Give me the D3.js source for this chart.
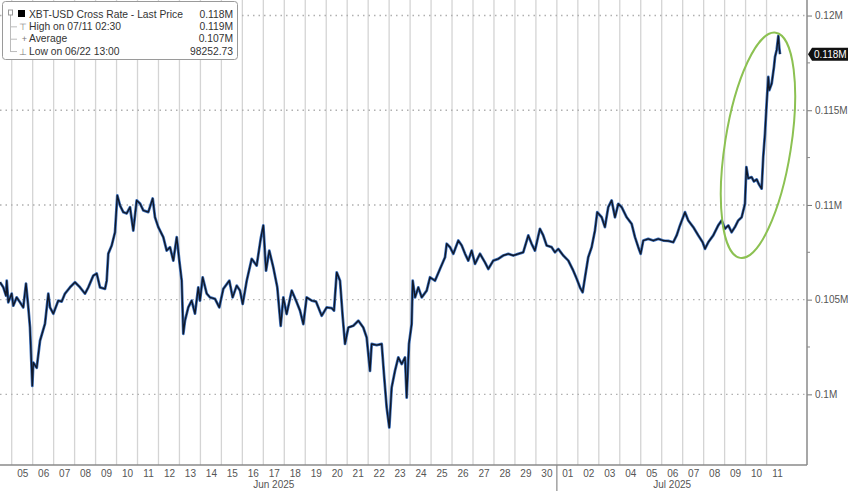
<!DOCTYPE html>
<html>
<head>
<meta charset="utf-8">
<script src="https://cdn.jsdelivr.net/npm/d3@7"></script>
<style>
  html, body { margin: 0; padding: 0; background: #fff; }
  svg { display: block; font-family: "Liberation Sans", Arial, sans-serif; }
</style>
</head>
<body>
<svg id="chart" width="848" height="491"></svg>
<script>
// XBT-USD cross rate, intraday (UTC)
const times = [
  '06-04 10:36', '06-04 14:24', '06-04 17:30', '06-04 18:18', '06-04 20:06',
  '06-05 00:00', '06-05 01:50', '06-05 05:40', '06-05 09:30', '06-05 13:16', '06-05 16:22', '06-05 19:00', '06-05 20:56', '06-05 23:35',
  '06-06 00:43', '06-06 04:37', '06-06 08:24', '06-06 14:07', '06-06 17:53', '06-06 19:50', '06-06 23:36',
  '06-07 05:20', '06-07 09:14', '06-07 13:00', '06-07 18:44',
  '06-08 00:27', '06-08 06:10', '06-08 11:54', '06-08 15:41', '06-08 21:24',
  '06-09 01:17', '06-09 05:04', '06-09 10:48', '06-09 12:44', '06-09 14:34', '06-09 18:27', '06-09 22:14',
  '06-10 00:52', '06-10 04:00', '06-10 07:44', '06-10 11:37', '06-10 15:24', '06-10 19:10', '06-10 23:04',
  '06-11 02:50', '06-11 06:37', '06-11 12:20', '06-11 17:23', '06-11 20:00', '06-11 23:47',
  '06-12 05:30', '06-12 09:24', '06-12 13:10', '06-12 17:00', '06-12 20:53', '06-12 23:50',
  '06-13 02:35', '06-13 04:25', '06-13 06:20', '06-13 10:07', '06-13 14:00', '06-13 17:47', '06-13 21:34', '06-13 23:31',
  '06-14 02:36', '06-14 07:12', '06-14 11:00', '06-14 16:42', '06-14 21:36',
  '06-15 02:12', '06-15 09:06', '06-15 12:54', '06-15 17:30', '06-15 21:18',
  '06-16 00:24', '06-16 05:00', '06-16 10:42', '06-16 16:24', '06-16 21:00',
  '06-17 00:00', '06-17 03:06', '06-17 06:48', '06-17 11:24', '06-17 16:00', '06-17 19:54', '06-17 22:54',
  '06-18 02:42', '06-18 08:30', '06-18 13:24', '06-18 18:00', '06-18 21:48',
  '06-19 01:36', '06-19 07:24', '06-19 12:18', '06-19 18:48',
  '06-20 00:30', '06-20 06:18', '06-20 08:54', '06-20 12:00', '06-20 15:48', '06-20 18:54', '06-20 21:30',
  '06-21 01:18', '06-21 07:00', '06-21 12:42', '06-21 18:24', '06-21 22:18',
  '06-22 02:06', '06-22 04:00', '06-22 09:48', '06-22 15:30', '06-22 18:06', '06-22 21:12',
  '06-23 00:12', '06-23 02:54', '06-23 06:42', '06-23 10:30', '06-23 14:24', '06-23 18:12', '06-23 20:06', '06-23 22:42',
  '06-24 01:48', '06-24 03:00', '06-24 05:42', '06-24 09:24', '06-24 13:18', '06-24 19:00', '06-24 22:48',
  '06-25 04:30', '06-25 10:12', '06-25 16:00', '06-25 17:54', '06-25 21:42',
  '06-26 01:30', '06-26 07:12', '06-26 11:06', '06-26 14:54', '06-26 18:36', '06-26 22:30',
  '06-27 02:18', '06-27 08:00', '06-27 13:42', '06-27 17:30', '06-27 23:12',
  '06-28 04:54', '06-28 10:36', '06-28 16:24', '06-28 22:06',
  '06-29 03:48', '06-29 09:30', '06-29 15:18', '06-29 19:06', '06-29 22:54',
  '06-30 04:36', '06-30 08:24', '06-30 12:18', '06-30 18:00', '06-30 21:48',
  '07-01 01:36', '07-01 07:18', '07-01 13:06', '07-01 18:48', '07-01 22:42',
  '07-02 02:24', '07-02 05:30', '07-02 08:12', '07-02 11:54', '07-02 15:48', '07-02 19:36', '07-02 22:12',
  '07-03 03:18', '07-03 07:00', '07-03 10:48', '07-03 14:42', '07-03 18:30', '07-03 22:18',
  '07-04 02:12', '07-04 07:54', '07-04 13:36', '07-04 17:24', '07-04 21:12', '07-04 23:54',
  '07-05 02:54', '07-05 08:36', '07-05 14:18', '07-05 20:06',
  '07-06 01:48', '07-06 07:30', '07-06 13:12', '07-06 17:06', '07-06 20:54',
  '07-07 02:36', '07-07 06:24', '07-07 12:06', '07-07 17:54', '07-07 22:54',
  '07-08 01:30', '07-08 05:18', '07-08 11:00', '07-08 16:42', '07-08 20:36',
  '07-09 00:24', '07-09 04:12', '07-09 08:00', '07-09 11:48', '07-09 15:36', '07-09 19:30', '07-09 23:18',
  '07-10 00:54', '07-10 03:00', '07-10 06:54', '07-10 09:30', '07-10 12:42', '07-10 15:18', '07-10 18:24', '07-10 20:12', '07-10 22:12',
  '07-11 00:06', '07-11 02:00', '07-11 03:06', '07-11 05:54', '07-11 08:30', '07-11 09:42', '07-11 11:36', '07-11 13:30', '07-11 14:36', '07-11 15:24'
]
const prices = [
  105920, 105650, 105210, 106000, 104860,
  105320, 104680, 105120, 104860, 104590, 105850, 104590, 103530, 100450,
  101680, 101400, 102830, 103730, 105320, 104590, 104260,
  104950, 104900, 105320, 105650,
  105920, 105650, 105320, 105650, 106270,
  106380, 105650, 105570, 106000, 107430, 107860, 108560,
  110500, 109970, 109620, 109550, 109880, 108650, 110240,
  110080, 109710, 109620, 110340, 109350, 108830,
  108300, 107590, 107770, 107060, 108300, 107060,
  106000, 103200, 103890, 104590, 104950, 104260, 105650, 104950,
  106180, 105320, 105120, 105040, 104590,
  105570, 106000, 105120, 105740, 105480,
  104770, 106000, 107150, 106800, 108210,
  108920, 106530, 107590, 106710, 105650, 103620, 105120,
  104240, 105480, 104950, 104420, 103710,
  105120, 104950, 104900, 104150,
  104590, 104550, 104420, 106440, 106000, 104060, 102660,
  103530, 103620, 103890, 103530, 103000,
  101240, 102660, 102600, 102660, 101070, 99300,
  98252.73, 100360, 101240, 101950, 101600, 101950, 99830, 102660,
  103710, 106000, 105120, 105650, 105120, 105480, 106180,
  106000, 106620, 107240, 107950, 107770,
  107420, 108120, 107860, 107420, 107060, 107590,
  106890, 107420, 106970, 106620, 107060,
  107150, 107330, 107420, 107330,
  107420, 107500, 108390, 107950, 107590,
  108740, 108390, 107860, 107770, 107500,
  107680, 107330, 107060, 106530, 106100,
  105650, 105390, 106180, 107240, 107770, 108650, 109620,
  109350, 108830, 109880, 110240, 109350, 110060,
  109880, 109350, 109000, 108300, 107770, 107420,
  108120, 108210, 108120, 108210,
  108120, 108100, 108030, 108390, 108920,
  109620, 109180, 108830, 108390, 108030,
  107680, 108030, 108390, 108920, 109180,
  108740, 108920, 108560, 108830, 109180, 109350, 110060,
  112000, 111400, 111470, 111240, 111350, 111090, 110860, 112530, 113770,
  115350, 116760, 116060, 116410, 117290, 117820, 118180, 118920, 118280, 117960
]

const yTickValues = [100000, 105000, 110000, 115000, 120000]
const yTickLabels = ['0.1M', '0.105M', '0.11M', '0.115M', '0.12M']
const monthNames = ['Jun 2025', 'Jul 2025']
const monthAnchors = ['06-17 12:00', '07-06 12:00']
const legendLabels = ['XBT-USD Cross Rate - Last Price', 'High on 07/11 02:30', 'Average', 'Low on 06/22 13:00']
const legendValues = ['0.118M', '0.119M', '0.107M', '98252.73']
const lastLabel = '0.118M'
// circled breakout (centre point)
const circleAt = {t: '07-10 14:12', v: 113150}

const width = 848
const height = 491
const plotRight = 807
const plotBottom = 465
const font = '"Liberation Sans", Arial, sans-serif'

const parse = s => d3.utcParse('%Y-%m-%d %H:%M')('2025-' + s)
const data = times.map((t, i) => ({t: parse(t), v: prices[i]}))

const x = d3.scaleUtc()
  .domain([parse('06-04 10:36'), parse('07-12 22:18')])
  .range([0, plotRight])
const y = d3.scaleLinear()
  .domain([96270, 120820])
  .range([plotBottom, 0])

const svg = d3.select('#chart')

// vertical day grid
const days = d3.utcDays(parse('06-05 00:00'), parse('07-12 00:00'))
svg.append('g')
  .selectAll('line')
  .data(days)
  .enter()
  .append('line')
  .attr('x1', d => x(d)).attr('x2', d => x(d))
  .attr('y1', 0).attr('y2', plotBottom)
  .attr('stroke', '#d4d4d4')
  .attr('stroke-width', 1.3)

// horizontal dotted grid
svg.append('g')
  .selectAll('line')
  .data(yTickValues)
  .enter()
  .append('line')
  .attr('x1', 0).attr('x2', plotRight)
  .attr('y1', d => y(d)).attr('y2', d => y(d))
  .attr('stroke', '#b0b0b0')
  .attr('stroke-width', 1.4)
  .attr('stroke-dasharray', '1.5,4')

// right axis
const yAxis = d3.axisRight(y)
  .tickValues(yTickValues)
  .tickSize(5)
  .tickPadding(3)
  .tickFormat((d, i) => yTickLabels[i])
const gy = svg.append('g')
  .attr('transform', `translate(${plotRight},0)`)
  .call(yAxis)
gy.select('.domain').remove()
gy.selectAll('.tick line').attr('stroke', '#777')
gy.selectAll('.tick text')
  .attr('fill', '#555')
  .style('font-size', '10px')
  .style('font-family', font)
svg.append('g')
  .selectAll('line')
  .data(yTickValues.slice(0, -1).map(v => v + 2500))
  .enter()
  .append('line')
  .attr('x1', plotRight).attr('x2', plotRight + 3)
  .attr('y1', d => y(d)).attr('y2', d => y(d))
  .attr('stroke', '#888')

// bottom axis
const xAxis = d3.axisBottom(x)
  .tickValues(days.map(d => d3.utcHour.offset(d, 12)))
  .tickSize(0)
  .tickPadding(5)
  .tickFormat(d3.utcFormat('%d'))
const gx = svg.append('g')
  .attr('transform', `translate(0,${plotBottom})`)
  .call(xAxis)
gx.select('.domain').remove()
gx.selectAll('.tick text')
  .attr('fill', '#555')
  .style('font-size', '10px')
  .style('font-family', font)

svg.append('line')
  .attr('x1', 0).attr('x2', plotRight)
  .attr('y1', plotBottom).attr('y2', plotBottom)
  .attr('stroke', '#8a8a8a').attr('stroke-width', 1.5)
svg.append('line')
  .attr('x1', plotRight).attr('x2', plotRight)
  .attr('y1', 0).attr('y2', plotBottom)
  .attr('stroke', '#8a8a8a').attr('stroke-width', 1.5)
// month separator
svg.append('line')
  .attr('x1', x(parse('07-01 00:00'))).attr('x2', x(parse('07-01 00:00')))
  .attr('y1', plotBottom).attr('y2', height)
  .attr('stroke', '#8a8a8a').attr('stroke-width', 1.2)

svg.append('g')
  .selectAll('text')
  .data(monthNames)
  .enter()
  .append('text')
  .attr('x', (d, i) => x(parse(monthAnchors[i])))
  .attr('y', 487.5)
  .attr('text-anchor', 'middle')
  .attr('fill', '#555')
  .style('font-size', '10px')
  .text(d => d)

// price line: blue under, dark over
const line = d3.line().x(d => x(d.t)).y(d => y(d.v))
svg.append('path')
  .datum(data)
  .attr('fill', 'none')
  .attr('stroke', '#3f72bd')
  .attr('stroke-width', 2.8)
  .attr('stroke-linejoin', 'round')
  .attr('d', line)
svg.append('path')
  .datum(data)
  .attr('fill', 'none')
  .attr('stroke', '#101828')
  .attr('stroke-width', 1.4)
  .attr('stroke-linejoin', 'round')
  .attr('d', line)

// green ring around the breakout
const cx = x(parse(circleAt.t))
const cy = y(circleAt.v)
svg.append('ellipse')
  .attr('cx', cx).attr('cy', cy)
  .attr('rx', 33).attr('ry', 114)
  .attr('transform', `rotate(9,${cx},${cy})`)
  .attr('fill', 'none')
  .attr('stroke', '#8cc152')
  .attr('stroke-width', 2)

// last price tag
const last = data[data.length - 1]
const tag = svg.append('g').attr('transform', `translate(${plotRight + 1},${y(last.v)})`)
tag.append('path')
  .attr('d', 'M0,0 L4,-6.5 L41,-6.5 L41,6.5 L4,6.5 Z')
  .attr('fill', '#111')
tag.append('text')
  .attr('x', 6).attr('y', 3.4)
  .attr('fill', '#fff')
  .style('font-size', '10px')
  .text(lastLabel)

// legend
const lg = svg.append('g')
lg.append('rect')
  .attr('x', 2.5).attr('y', 1.5)
  .attr('width', 235).attr('height', 58)
  .attr('rx', 3)
  .attr('fill', '#fff')
  .attr('stroke', '#9a9a9a')
lg.append('line')
  .attr('x1', 10.5).attr('x2', 10.5).attr('y1', 12).attr('y2', 52)
  .attr('stroke', '#bbb')
lg.append('rect')
  .attr('x', 8.5).attr('y', 10).attr('width', 4).attr('height', 5)
  .attr('fill', '#fff').attr('stroke', '#999')
const rowY = i => 17.5 + i * 12.35
lg.append('rect')
  .attr('x', 18).attr('y', rowY(0) - 7.5).attr('width', 7).attr('height', 7)
  .attr('fill', '#000')
const marks = ['', '⊤', '+', '⊥']
lg.selectAll('.mark')
  .data(marks)
  .enter()
  .append('text')
  .attr('class', 'mark')
  .attr('x', 27).attr('y', (d, i) => rowY(i))
  .attr('text-anchor', 'end')
  .attr('fill', '#777')
  .style('font-size', '9px')
  .text(d => d)
lg.selectAll('.mark-stem')
  .data([1, 2, 3])
  .enter()
  .append('line')
  .attr('x1', 10.5).attr('x2', 17)
  .attr('y1', d => rowY(d) - 3).attr('y2', d => rowY(d) - 3)
  .attr('stroke', '#bbb')
lg.selectAll('.label')
  .data(legendLabels)
  .enter()
  .append('text')
  .attr('x', 29).attr('y', (d, i) => rowY(i))
  .attr('fill', '#333')
  .style('font-size', '10.3px')
  .text(d => d)
lg.selectAll('.value')
  .data(legendValues)
  .enter()
  .append('text')
  .attr('x', 233).attr('y', (d, i) => rowY(i))
  .attr('text-anchor', 'end')
  .attr('fill', '#333')
  .style('font-size', '10.3px')
  .text(d => d)
</script>
</body>
</html>
